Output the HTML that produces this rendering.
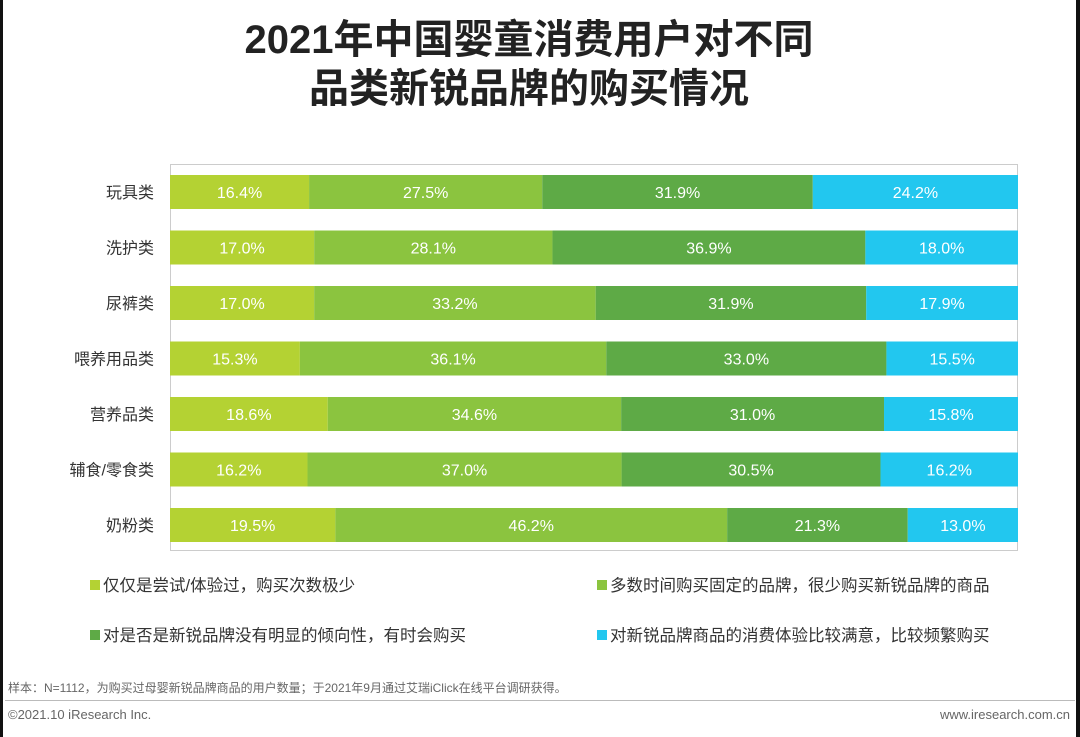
<!DOCTYPE html>
<html><head><meta charset="utf-8"><style>
body{margin:0;width:1080px;height:737px;overflow:hidden;background:#fff;font-family:"Liberation Sans","Noto Sans CJK SC",sans-serif;position:relative}
.t{position:absolute;left:0;width:1058px;text-align:center;font-weight:bold;font-size:40px;color:#222}
</style></head><body>
<div style="position:absolute;left:0;top:0;width:3px;height:737px;background:#111"></div>
<div style="position:absolute;right:0;top:0;width:4px;height:737px;background:#111"></div>
<div class="t" style="top:16px;line-height:49px">2021年中国婴童消费用户对不同<br>品类新锐品牌的购买情况</div>
<svg id="c" width="1080" height="737" style="position:absolute;left:0;top:0"></svg>
<script>
const categories=["玩具类","洗护类","尿裤类","喂养用品类","营养品类","辅食/零食类","奶粉类"];
const s1=[16.4,17.0,17.0,15.3,18.6,16.2,19.5];
const s2=[27.5,28.1,33.2,36.1,34.6,37.0,46.2];
const s3=[31.9,36.9,31.9,33.0,31.0,30.5,21.3];
const s4=[24.2,18.0,17.9,15.5,15.8,16.2,13.0];
const legendLabels=["仅仅是尝试/体验过，购买次数极少","多数时间购买固定的品牌，很少购买新锐品牌的商品","对是否是新锐品牌没有明显的倾向性，有时会购买","对新锐品牌商品的消费体验比较满意，比较频繁购买"];
const colors=["#b4d233","#8bc43f","#5eaa46","#22c7ef"];
const svg=document.getElementById('c');const NS="http://www.w3.org/2000/svg";
function mk(t,a){const e=document.createElementNS(NS,t);for(const k in a)e.setAttribute(k,a[k]);svg.appendChild(e);return e;}
const x0=170,x1=1018,top0=175,pitch=55.5,bh=34;
const xs=v=>(x1-x0)*v/100;
const box=mk('rect',{x:170.5,y:164.5,width:847,height:386,fill:'none',stroke:'#ccc'});


const series=[s1,s2,s3,s4];
categories.forEach((c,i)=>{
 const y=top0+i*pitch;
 const lb=mk('text',{x:154,y:y+bh/2+6,'text-anchor':'end','font-size':16,fill:'#333'});lb.textContent=c;
 
 
 let tot=0;series.forEach(s=>tot+=s[i]);
 let acc=0;
 series.forEach((s,j)=>{
  const x=x0+xs(acc/tot*100),w=xs(s[i]/tot*100);
  const r=mk('rect',{x:x,y:y,width:w,height:bh,fill:colors[j]});
  
  
  const t=mk('text',{x:x+w/2,y:y+bh/2+6,'text-anchor':'middle','font-size':16,fill:'#fff'});t.textContent=s[i].toFixed(1)+'%';
  
  
  acc+=s[i];
 });
});
const lp=[[90,585],[597,585],[90,635],[597,635]];
legendLabels.forEach((l,j)=>{
 const r=mk('rect',{x:lp[j][0],y:lp[j][1]-5,width:10,height:10,fill:colors[j]});
 
 
 const t=mk('text',{x:lp[j][0]+13,y:lp[j][1]+6,'font-size':16.5,fill:'#333'});t.textContent=l;
 
 
});
const n=mk('text',{x:8,y:692,'font-size':12,fill:'#666'});n.textContent="样本：N=1112，为购买过母婴新锐品牌商品的用户数量；于2021年9月通过艾瑞iClick在线平台调研获得。";


const ln=mk('line',{x1:5,x2:1075,y1:700.5,y2:700.5,stroke:'#bbb'});


const cp=mk('text',{x:8,y:719,'font-size':13,fill:'#666'});cp.textContent="©2021.10 iResearch Inc.";


const ws=mk('text',{x:1070,y:719,'font-size':13,fill:'#666','text-anchor':'end'});ws.textContent="www.iresearch.com.cn";


</script>
</body></html>
